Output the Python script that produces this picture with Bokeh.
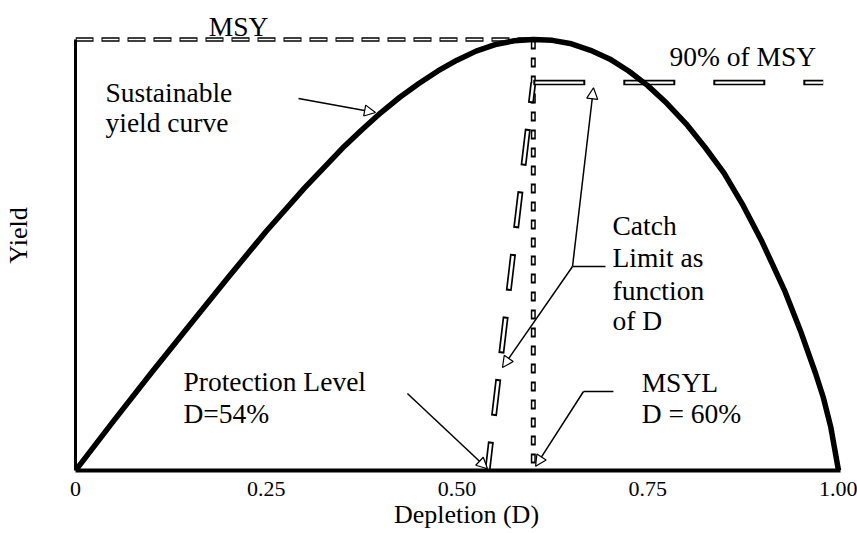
from bokeh.plotting import figure
from bokeh.models import Range1d, FixedTicker, Label, Arrow, NormalHead
from bokeh.embed import file_html
from bokeh.resources import INLINE

# Sustainable yield (fraction of MSY) as a function of depletion D
depletion = [0.0, 0.05, 0.10, 0.15, 0.20, 0.25, 0.30, 0.35, 0.375, 0.40,
             0.425, 0.45, 0.475, 0.50, 0.525, 0.55, 0.575, 0.60, 0.625, 0.65,
             0.675, 0.70, 0.725, 0.75, 0.775, 0.80, 0.825, 0.85, 0.875, 0.90,
             0.93, 0.95, 0.96, 0.97, 0.98, 0.99, 1.00]
sustainable_yield = [0.0, 0.115, 0.228, 0.338, 0.448, 0.555, 0.655, 0.748,
                     0.79, 0.83, 0.866, 0.898, 0.927, 0.952, 0.973, 0.988,
                     0.997, 1.0, 0.998, 0.99, 0.975, 0.955, 0.927, 0.893,
                     0.852, 0.805, 0.75, 0.69, 0.615, 0.53, 0.415, 0.325,
                     0.275, 0.225, 0.17, 0.10, 0.0]

msy = 1.0                 # maximum sustainable yield
msyl = 0.60               # depletion at MSY
protection_level = 0.54   # catch limit is zero below this depletion
cl_fraction = 0.90        # catch limit plateau as fraction of MSY
cl_end = 0.98             # right end of the drawn plateau

# Catch limit rule: rises from the protection level to 90% of MSY at MSYL
cl_rise_d = [protection_level, msyl]
cl_rise_y = [0.0, cl_fraction * msy]
cl_flat_d = [msyl, cl_end]
cl_flat_y = [cl_fraction * msy, cl_fraction * msy]

x_ticks = [0, 0.25, 0.5, 0.75, 1.0]
x_tick_labels = ["0", "0.25", "0.50", "0.75", "1.00"]

SERIF = "Liberation Serif"
NOTE_SIZE = "27.5px"

p = figure(width=857, height=533, output_backend="svg", toolbar_location=None,
           x_range=Range1d(0, 782 / 763), y_range=Range1d(0, 470 / 431),
           min_border_left=75, min_border_right=0, min_border_top=0,
           min_border_bottom=63)
p.outline_line_color = None
p.grid.visible = False
p.background_fill_color = "white"
p.border_fill_color = "white"

# x axis
xa = p.xaxis[0]
xa.bounds = (0, 1.002)
xa.ticker = FixedTicker(ticks=x_ticks)
xa.major_label_overrides = {t: s for t, s in zip(x_ticks, x_tick_labels)}
xa.axis_line_width = 4
xa.major_tick_line_color = None
xa.minor_tick_line_color = None
xa.major_label_text_font = SERIF
xa.major_label_text_font_size = "22px"
xa.major_label_text_color = "black"
xa.major_label_standoff = 5
xa.axis_label = "Depletion (D)"
xa.axis_label_text_font = SERIF
xa.axis_label_text_font_size = "26px"
xa.axis_label_text_font_style = "normal"
xa.axis_label_text_color = "black"
xa.axis_label_standoff = 1

# y axis: line only, no ticks
ya = p.yaxis[0]
ya.bounds = (0, msy)
ya.ticker = FixedTicker(ticks=[])
ya.axis_line_width = 3
ya.major_tick_line_color = None
ya.minor_tick_line_color = None
ya.axis_label = "Yield"
ya.axis_label_text_font = SERIF
ya.axis_label_text_font_size = "26px"
ya.axis_label_text_font_style = "normal"
ya.axis_label_text_color = "black"
ya.axis_label_standoff = 43


def hollow_dashed(xs, ys, width, dash, gap, inset, offset=0, inner=None):
    """Dashed line whose dashes are drawn as outlined (hollow) bars."""
    p.line(xs, ys, line_color="black", line_width=width,
           line_dash=f"{dash} {gap}", line_dash_offset=offset)
    p.line(xs, ys, line_color="white",
           line_width=inner if inner else max(width - 2.8, 1),
           line_dash=f"{dash - 2 * inset} {gap + 2 * inset}",
           line_dash_offset=offset - inset)


# MSY reference line
hollow_dashed([0.0, msyl], [msy, msy], 4.5, 18, 8, 1, inner=1.6)
# MSYL vertical
hollow_dashed([msyl, msyl], [msy, 0.0], 5, 10, 8, 2, inner=2)
# Catch limit as function of D
hollow_dashed(cl_rise_d, cl_rise_y, 6, 37, 26, 2, offset=8, inner=2.6)
hollow_dashed(cl_flat_d, cl_flat_y, 5.5, 52, 38, 2, inner=2.2)

# Sustainable yield curve
p.line(depletion, sustainable_yield, line_color="black", line_width=5.5,
       line_join="round")


def head():
    return NormalHead(size=11, fill_color="white", line_color="black",
                      line_width=1.2)


# Arrows and leaders
p.add_layout(Arrow(end=head(), x_start=0.2923, y_start=0.863,
                   x_end=0.3932, y_end=0.8306, line_width=1.6))
p.line([0.6946, 0.6514], [0.4733, 0.4733], line_color="black", line_width=1.5)
p.add_layout(Arrow(end=head(), x_start=0.6514, y_start=0.4733,
                   x_end=0.6789, y_end=cl_fraction * msy - 0.012, line_width=1.5))
p.add_layout(Arrow(end=head(), x_start=0.6514, y_start=0.4733,
                   x_end=0.5596, y_end=0.239, line_width=1.5))
p.line([0.705, 0.6658], [0.1833, 0.1833], line_color="black", line_width=1.5)
p.add_layout(Arrow(end=head(), x_start=0.6658, y_start=0.1833,
                   x_end=msyl + 0.003, y_end=0.01, line_width=1.5))
p.add_layout(Arrow(end=head(), x_start=0.435, y_start=0.1787,
                   x_end=protection_level, y_end=0.004, line_width=1.5))

# Text annotations
labels = [
    ("MSY", 0.2136, 1.030, "center"),
    ("Sustainable", 0.0393, 0.877, "left"),
    ("yield curve", 0.0393, 0.8074, "left"),
    ("90% of MSY", 0.7785, 0.9606, "left"),
    ("Catch", 0.7038, 0.5684, "left"),
    ("Limit as", 0.7038, 0.4942, "left"),
    ("function", 0.7038, 0.4176, "left"),
    ("of D", 0.7038, 0.348, "left"),
    ("MSYL", 0.742, 0.204, "left"),
    ("D = 60%", 0.742, 0.132, "left"),
    ("Protection Level", 0.1415, 0.2065, "left"),
    ("D=54%", 0.1415, 0.132, "left"),
]
for txt, lx, ly, align in labels:
    p.add_layout(Label(x=lx, y=ly, text=txt, text_font=SERIF,
                       text_font_size=NOTE_SIZE, text_color="black",
                       text_align=align, text_baseline="alphabetic"))

open("out.html", "w").write(file_html(p, INLINE))
